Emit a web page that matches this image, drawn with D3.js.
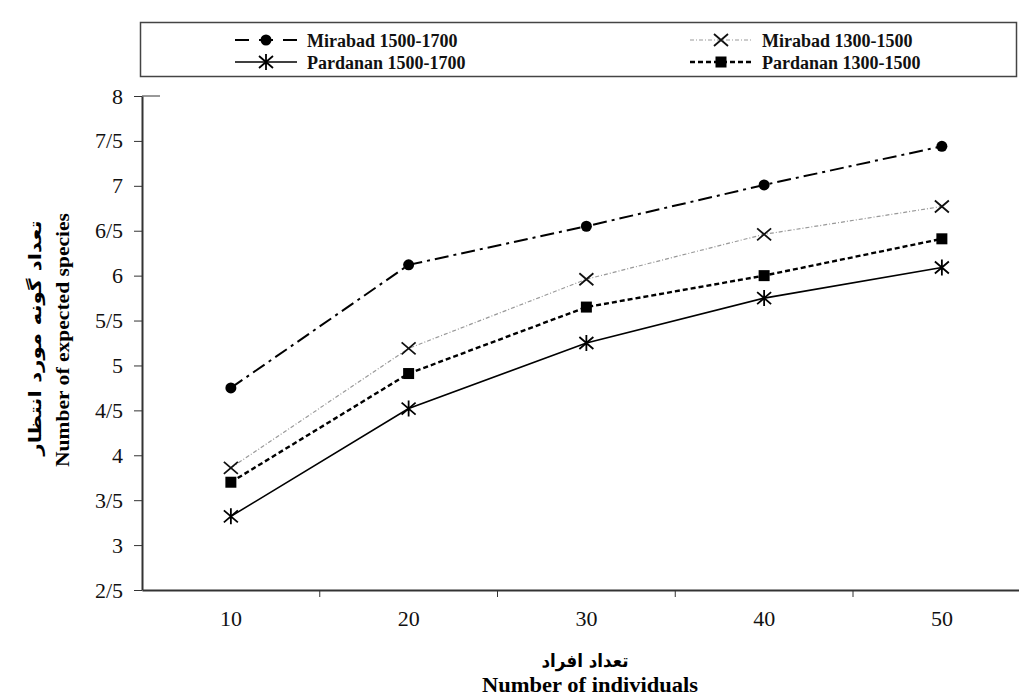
<!DOCTYPE html>
<html>
<head>
<meta charset="utf-8">
<script src="https://cdn.jsdelivr.net/npm/d3@7"></script>
<style>
  body { margin: 0; background: #fff; }
  svg { display: block; }
  .axis text { font-family: "Liberation Serif", "Times New Roman", serif; font-size: 22px; fill: #111; }
  .axis path, .axis line { stroke: #333; }
</style>
</head>
<body>
<div id="chart"></div>
<script>
// data
var categories = [10, 20, 30, 40, 50];
var mirabad1500 = [4.75, 6.12, 6.55, 7.01, 7.44];
var mirabad1300 = [3.86, 5.19, 5.96, 6.46, 6.77];
var pardanan1500 = [3.32, 4.52, 5.25, 5.75, 6.09];
var pardanan1300 = [3.70, 4.91, 5.65, 6.00, 6.41];
var yTicks = [2.5, 3, 3.5, 4, 4.5, 5, 5.5, 6, 6.5, 7, 7.5, 8];

var series = [
    {name: "Mirabad 1500-1700", values: mirabad1500, marker: "circle", color: "#000", width: 2, dash: "14,5,3,5"},
    {name: "Mirabad 1300-1500", values: mirabad1300, marker: "cross", color: "#999", width: 1.2, dash: "4,2,1,2"},
    {name: "Pardanan 1500-1700", values: pardanan1500, marker: "star", color: "#000", width: 1.6, dash: null},
    {name: "Pardanan 1300-1500", values: pardanan1300, marker: "square", color: "#000", width: 2.4, dash: "5,3"}
];

var width = 1019, height = 696;
var marginLeft = 142, plotBottom = 590, plotTop = 96;
var step = 177.75;

var svg = d3.select("#chart").append("svg")
    .attr("width", width)
    .attr("height", height);

var x = d3.scaleBand()
    .domain(categories)
    .range([marginLeft, marginLeft + step * categories.length]);

var y = d3.scaleLinear()
    .domain([2.5, 8])
    .range([plotBottom, plotTop]);

function fmt(d) { return String(d).replace(".", "/"); }

// marker drawing
function drawMarker(g, type) {
    if (type == "circle") {
        g.append("circle").attr("r", 5.5).attr("fill", "#000");
    } else if (type == "square") {
        g.append("rect").attr("x", -5.5).attr("y", -5.5).attr("width", 11).attr("height", 11).attr("fill", "#000");
    } else if (type == "cross") {
        g.append("path").attr("d", "M-7,-6L7,6M-7,6L7,-6")
            .attr("stroke", "#111").attr("stroke-width", 1.8).attr("fill", "none");
    } else if (type == "star") {
        g.append("path").attr("d", "M-7,-6L7,6M-7,6L7,-6M0,-8L0,8")
            .attr("stroke", "#000").attr("stroke-width", 1.8).attr("fill", "none");
    }
}

// y axis
var gY = svg.append("g")
    .attr("class", "axis")
    .attr("transform", "translate(" + marginLeft + ",0)")
    .call(d3.axisLeft(y).tickValues(yTicks).tickFormat(fmt).tickSize(8).tickSizeOuter(0).tickPadding(11));
gY.select(".domain").attr("stroke-width", 2);

// short stub at the top of the value axis
gY.append("line")
    .attr("x1", 0).attr("x2", 18)
    .attr("y1", y(8)).attr("y2", y(8))
    .attr("stroke", "#888");

// x axis
var gX = svg.append("g")
    .attr("class", "axis")
    .attr("transform", "translate(0," + plotBottom + ")")
    .call(d3.axisBottom(x).tickSize(0).tickPadding(20));
gX.select(".domain").attr("stroke-width", 2);

// boundary ticks between categories
gX.selectAll(".bound")
    .data(categories)
    .enter().append("line")
    .attr("class", "bound")
    .attr("x1", function(d) { return x(d) + x.bandwidth(); })
    .attr("x2", function(d) { return x(d) + x.bandwidth(); })
    .attr("y1", 0).attr("y2", 7)
    .attr("stroke", "#333");

// lines
var line = d3.line()
    .x(function(d, i) { return x(categories[i]) + x.bandwidth() / 2; })
    .y(function(d) { return y(d); });

var sg = svg.selectAll(".series")
    .data(series)
    .enter().append("g")
    .attr("class", "series");

sg.append("path")
    .attr("d", function(d) { return line(d.values); })
    .attr("fill", "none")
    .attr("stroke", function(d) { return d.color; })
    .attr("stroke-width", function(d) { return d.width; })
    .attr("stroke-dasharray", function(d) { return d.dash; });

sg.each(function(s) {
    d3.select(this).selectAll(".pt")
        .data(s.values)
        .enter().append("g")
        .attr("class", "pt")
        .attr("transform", function(d, i) { return "translate(" + (x(categories[i]) + x.bandwidth() / 2) + "," + y(d) + ")"; })
        .each(function() { drawMarker(d3.select(this), s.marker); });
});

// legend
svg.append("rect")
    .attr("x", 140.5).attr("y", 22.5)
    .attr("width", 876).attr("height", 54)
    .attr("fill", "none").attr("stroke", "#444").attr("stroke-width", 1.5);

var legendPos = [[235, 40], [690, 40], [235, 62], [690, 62]];
series.forEach(function(s, i) {
    var p = legendPos[i];
    var lg = svg.append("g").attr("transform", "translate(" + p[0] + "," + p[1] + ")");
    lg.append("line")
        .attr("x1", 0).attr("x2", 62)
        .attr("stroke", s.color)
        .attr("stroke-width", s.width)
        .attr("stroke-dasharray", s.marker == "circle" ? "14,10" : s.dash);
    drawMarker(lg.append("g").attr("transform", "translate(31,0)"), s.marker);
    lg.append("text")
        .attr("x", 72).attr("y", 6.5)
        .attr("font-family", "Liberation Serif, serif")
        .attr("font-weight", "bold")
        .attr("font-size", 18)
        .attr("fill", "#111")
        .text(s.name);
});

// axis titles
svg.append("text")
    .attr("transform", "translate(41,338) rotate(-90)")
    .attr("text-anchor", "middle")
    .attr("font-family", "DejaVu Sans, sans-serif")
    .attr("font-weight", "bold")
    .attr("font-size", 17)
    .attr("direction", "rtl")
    .attr("textLength", 235)
    .attr("lengthAdjust", "spacingAndGlyphs")
    .text("تعداد گونه مورد انتظار");

svg.append("text")
    .attr("transform", "translate(69,340) rotate(-90)")
    .attr("text-anchor", "middle")
    .attr("font-family", "Liberation Serif, serif")
    .attr("font-weight", "bold")
    .attr("font-size", 19)
    .attr("textLength", 254)
    .attr("lengthAdjust", "spacingAndGlyphs")
    .text("Number of expected species");

svg.append("text")
    .attr("x", 585).attr("y", 667)
    .attr("text-anchor", "middle")
    .attr("font-family", "DejaVu Sans, sans-serif")
    .attr("font-weight", "bold")
    .attr("font-size", 18)
    .attr("direction", "rtl")
    .attr("textLength", 87)
    .attr("lengthAdjust", "spacingAndGlyphs")
    .text("تعداد افراد");

svg.append("text")
    .attr("x", 590).attr("y", 692)
    .attr("text-anchor", "middle")
    .attr("font-family", "Liberation Serif, serif")
    .attr("font-weight", "bold")
    .attr("font-size", 20)
    .attr("textLength", 216)
    .attr("lengthAdjust", "spacingAndGlyphs")
    .text("Number of individuals");
</script>
</body>
</html>
